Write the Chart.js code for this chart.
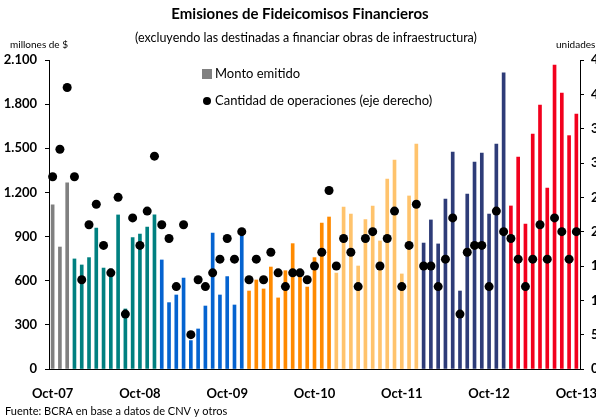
<!DOCTYPE html>
<html>
<head>
<meta charset="utf-8">
<script src="https://cdn.jsdelivr.net/npm/chart.js@4.4.1/dist/chart.umd.min.js"></script>
<style>
  html, body { margin: 0; padding: 0; background: #fff; overflow: hidden; }
  .chart-wrapper { position: relative; width: 610px; height: 420px; }
</style>
</head>
<body>
<div class="chart-wrapper">
  <canvas id="chart" width="610" height="420"></canvas>
</div>
<script>
// Monthly data, Oct-07 .. Oct-13
const firstYear = 2007;
const firstMonth = 9; // October (0-based)
const monthCount = 73;

const tickLabels = ['Oct-07', 'Oct-08', 'Oct-09', 'Oct-10', 'Oct-11', 'Oct-12', 'Oct-13'];

// Monto emitido (millones de $)
const monto = [
  1115, 829, 1266,
  748, 707, 757, 958, 686, 680, 1047, 408, 893, 917, 965, 1047,
  741, 451, 503, 618, 193, 272, 428, 924, 503, 628, 435, 933,
  530, 605, 544, 693, 483, 668, 852, 668, 557, 757, 992, 1033,
  652, 1101, 1053, 700, 1015, 1108, 870, 1291, 1420, 646, 1176, 1529,
  856, 1013, 850, 1155, 1475, 530, 1189, 1407, 1468, 1053, 1529, 2012,
  1108, 1441, 985, 1597, 1794, 1230, 2066, 1876, 1586, 1733
];

// Cantidad de operaciones (unidades)
const operaciones = [
  28, 32, 41,
  28, 13, 21, 24, 18, 14, 25, 8, 22, 18, 23, 31,
  21, 19, 12, 21, 5, 13, 12, 14, 16, 19, 16, 20,
  13, 16, 13, 17, 14, 12, 14, 14, 13, 15, 17, 26,
  15, 19, 17, 12, 19, 20, 15, 19, 23, 12, 18, 24,
  15, 15, 12, 16, 22, 8, 17, 18, 18, 12, 23, 20,
  19, 16, 12, 16, 21, 16, 22, 20, 16, 20
];

// Bar colour per calendar year
const yearColors = {
  2007: '#808080',
  2008: '#008080',
  2009: '#0563d0',
  2010: '#ff8a00',
  2011: '#ffc36c',
  2012: '#2e3c78',
  2013: '#f2001d'
};

const FONT = 'Lato, "DejaVu Sans", sans-serif';

// Build month labels
const labels = [];
const barColors = [];
for (let i = 0; i < monthCount; i++) {
  const m = firstMonth + i;
  const year = firstYear + Math.floor(m / 12);
  const month = m % 12;
  labels.push(month === 9 ? 'Oct-' + String(year).slice(2) : 'm' + i);
  barColors.push(yearColors[year]);
}

// Extra texts: titles, unit labels, legend, source
const textPlugin = {
  id: 'texts',
  afterDraw(chart) {
    const ctx = chart.ctx;
    ctx.save();
    ctx.fillStyle = '#000';
    ctx.textBaseline = 'middle';

    ctx.textAlign = 'center';
    ctx.font = 'bold 15px ' + FONT;
    ctx.fillText('Emisiones de Fideicomisos Financieros', 300, 14);
    ctx.font = '12.5px ' + FONT;
    ctx.fillText('(excluyendo las destinadas a financiar obras de infraestructura)', 306, 38);

    ctx.textAlign = 'left';
    ctx.font = '10px ' + FONT;
    ctx.fillText('millones de $', 10, 45);
    ctx.fillText('unidades', 556, 45);

    // legend
    ctx.fillStyle = '#808080';
    ctx.fillRect(202, 69, 10, 10);
    ctx.fillStyle = '#000';
    ctx.beginPath();
    ctx.arc(207, 101, 4, 0, Math.PI * 2);
    ctx.fill();
    ctx.font = '13px ' + FONT;
    ctx.fillText('Monto emitido', 215, 74);
    ctx.fillText('Cantidad de operaciones (eje derecho)', 215, 101);

    ctx.font = '11px ' + FONT;
    ctx.fillText('Fuente: BCRA en base a datos de CNV y otros', 5, 411);
    ctx.restore();
  }
};

new Chart(document.getElementById('chart'), {
  type: 'bar',
  data: {
    labels: labels,
    datasets: [
      {
        type: 'line',
        label: 'Cantidad de operaciones (eje derecho)',
        data: operaciones,
        yAxisID: 'y2',
        showLine: false,
        pointRadius: 4.5,
        pointHoverRadius: 4.5,
        pointBackgroundColor: '#000',
        pointBorderWidth: 0,
        order: 0
      },
      {
        label: 'Monto emitido',
        data: monto,
        yAxisID: 'y',
        backgroundColor: barColors,
        barThickness: 3,
        order: 1
      }
    ]
  },
  plugins: [textPlugin],
  options: {
    responsive: false,
    animation: false,
    layout: { padding: { top: 60, left: 0, right: 0, bottom: 0 } },
    plugins: {
      legend: { display: false },
      title: { display: false },
      tooltip: { enabled: false }
    },
    scales: {
      x: {
        offset: true,
        grid: { display: false },
        border: { display: true, color: '#000', width: 1 },
        ticks: {
          autoSkip: false,
          maxRotation: 0,
          padding: 9,
          color: '#000',
          font: { family: FONT, size: 13, weight: 'bold' },
          callback: function (value) {
            const l = this.getLabelForValue(value);
            return tickLabels.includes(l) ? l : '';
          }
        },
        afterFit: s => { s.height = 51; }
      },
      y: {
        position: 'left',
        min: 0,
        max: 2100,
        grid: { drawOnChartArea: false, tickLength: 4, color: '#000' },
        border: { display: true, color: '#000', width: 1 },
        ticks: {
          stepSize: 300,
          padding: 8,
          color: '#000',
          font: { family: FONT, size: 13, weight: 'bold' },
          callback: v => v >= 1000 ? Math.floor(v / 1000) + '.' + String(v % 1000).padStart(3, '0') : String(v)
        },
        afterFit: s => { s.width = 49; }
      },
      y2: {
        position: 'right',
        min: 0,
        max: 45,
        grid: { drawOnChartArea: false, tickLength: 4, color: '#000' },
        border: { display: true, color: '#000', width: 1 },
        ticks: {
          stepSize: 5,
          padding: 7,
          color: '#000',
          font: { family: FONT, size: 13, weight: 'bold' }
        },
        afterFit: s => { s.width = 30; }
      }
    }
  }
});
</script>
</body>
</html>
